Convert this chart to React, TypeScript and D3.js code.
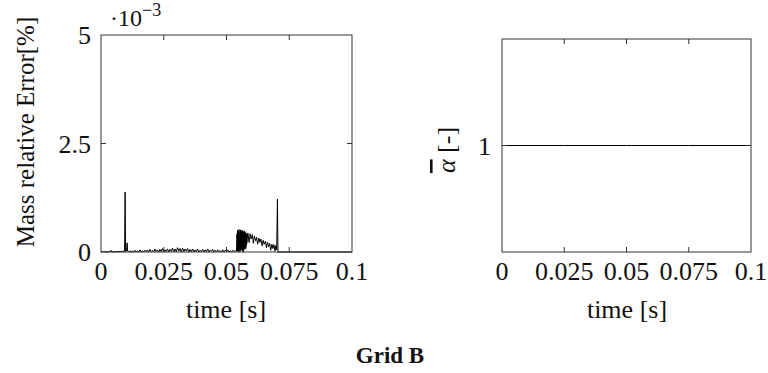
import React from "react";
import * as d3 from "d3";

// ---- data (left: mass relative error, in units of 1e-3 %) ----
const massErrorPoints: [number, number][] = [
  [0, 0], [0.001, 0.01], [0.002, 0.0], [0.0035, 0.01], [0.004, 0.04], [0.0043, 0.0],
  [0.006, 0.01], [0.008, 0.01], [0.0094, 0.02], [0.0096, 1.38], [0.0098, 0.01],
  [0.0102, 0.03], [0.0104, 0.21], [0.0106, 0.02],
  [0.011, 0.0], [0.0115, 0.03], [0.012, 0.0], [0.0125, 0.02], [0.013, 0.0], [0.0135, 0.04],
  [0.014, 0.0], [0.0145, 0.02], [0.015, 0.0], [0.0155, 0.05], [0.016, 0.0], [0.0165, 0.03],
  [0.017, 0.0], [0.0175, 0.04], [0.018, 0.01], [0.0185, 0.05], [0.019, 0.0], [0.0195, 0.06],
  [0.02, 0.01], [0.0205, 0.04], [0.021, 0.0], [0.0215, 0.07], [0.022, 0.01], [0.0225, 0.05],
  [0.023, 0.0], [0.0235, 0.06], [0.024, 0.01], [0.0245, 0.08], [0.025, 0.0], [0.0255, 0.05],
  [0.026, 0.01], [0.0265, 0.07], [0.027, 0.0], [0.0275, 0.06], [0.028, 0.02], [0.0285, 0.09],
  [0.029, 0.0], [0.0295, 0.07], [0.03, 0.01], [0.0305, 0.1], [0.031, 0.02], [0.0315, 0.08],
  [0.032, 0.0], [0.0325, 0.09], [0.033, 0.01], [0.0335, 0.07], [0.034, 0.02], [0.0345, 0.08],
  [0.035, 0.0], [0.0355, 0.06], [0.036, 0.01], [0.0365, 0.07], [0.037, 0.0], [0.0375, 0.05],
  [0.038, 0.01], [0.0385, 0.07], [0.039, 0.0], [0.0395, 0.04], [0.04, 0.01], [0.0405, 0.06],
  [0.041, 0.0], [0.0415, 0.05], [0.042, 0.01], [0.0425, 0.07], [0.043, 0.0], [0.0435, 0.04],
  [0.044, 0.01], [0.0445, 0.06], [0.045, 0.0], [0.0455, 0.04], [0.046, 0.0], [0.0465, 0.05],
  [0.047, 0.01], [0.0475, 0.03], [0.048, 0.0], [0.0485, 0.05], [0.049, 0.0], [0.0495, 0.04],
  [0.05, 0.01], [0.0505, 0.05], [0.051, 0.0], [0.0515, 0.03], [0.052, 0.0], [0.0525, 0.04],
  [0.053, 0.01], [0.0535, 0.03], [0.054, 0.02],
  [0.0542, 0.42], [0.0543, 0.02], [0.0544, 0.5], [0.0545, 0.05], [0.0546, 0.35], [0.0547, 0.0],
  [0.0548, 0.48], [0.0549, 0.04], [0.055, 0.52], [0.0551, 0.06], [0.0552, 0.3], [0.0553, 0.01],
  [0.0554, 0.46], [0.0555, 0.08], [0.0556, 0.51], [0.0557, 0.03], [0.0558, 0.38], [0.0559, 0.1],
  [0.056, 0.49], [0.0561, 0.05], [0.0562, 0.44], [0.0563, 0.12], [0.0564, 0.5], [0.0565, 0.02],
  [0.0566, 0.36], [0.0567, 0.0], [0.0568, 0.47], [0.0569, 0.09], [0.057, 0.42], [0.0571, 0.14],
  [0.0572, 0.48], [0.0573, 0.06], [0.0574, 0.4], [0.0575, 0.12], [0.0576, 0.45], [0.0577, 0.08],
  [0.0578, 0.43], [0.0579, 0.15], [0.058, 0.41], [0.0581, 0.2],
  [0.0585, 0.44], [0.059, 0.22], [0.0594, 0.42], [0.0598, 0.3], [0.0603, 0.4], [0.0607, 0.2],
  [0.0611, 0.37], [0.0616, 0.26], [0.062, 0.34], [0.0624, 0.18], [0.0629, 0.32], [0.0633, 0.22],
  [0.0637, 0.3], [0.0642, 0.14], [0.0646, 0.27], [0.065, 0.18], [0.0655, 0.25], [0.0659, 0.1],
  [0.0663, 0.23], [0.0668, 0.12], [0.0672, 0.2], [0.0676, 0.04], [0.0681, 0.18], [0.0685, 0.08],
  [0.0689, 0.17], [0.0693, 0.02], [0.0697, 0.15], [0.07, 0.05], [0.0703, 1.22], [0.0705, 0.0],
  [0.075, 0.0], [0.1, 0.0],
];

// right: volume-averaged alpha
const alphaTime = [0, 0.025, 0.05, 0.075, 0.1];
const alphaValue = [1, 1, 1, 1, 1];

const timeTicks = [0, 0.025, 0.05, 0.075, 0.1];
const timeTickLabels = ["0", "0.025", "0.05", "0.075", "0.1"];
const errTicks = [0, 2.5, 5];
const errTickLabels = ["0", "2.5", "5"];
const alphaTicks = [1];
const alphaTickLabels = ["1"];

const FONT = "'Liberation Serif', 'Times New Roman', serif";
const FS = 26;
const TICK = 5;
const FRAME = "#333";
const TEXT = "#111";

function Frame({ x, y, xTicks, yTicks }: any) {
  const [x0, x1] = x.range();
  const [y0, y1] = y.range();
  return (
    <g stroke={FRAME} strokeWidth={1} fill="none">
      <rect x={x0} y={y1} width={x1 - x0} height={y0 - y1} />
      {xTicks.map((t: number, i: number) => (
        <g key={"xt" + i}>
          <line x1={x(t)} x2={x(t)} y1={y0} y2={y0 - TICK} />
          <line x1={x(t)} x2={x(t)} y1={y1} y2={y1 + TICK} />
        </g>
      ))}
      {yTicks.map((t: number, i: number) => (
        <g key={"yt" + i}>
          <line x1={x0} x2={x0 + TICK} y1={y(t)} y2={y(t)} />
          <line x1={x1} x2={x1 - TICK} y1={y(t)} y2={y(t)} />
        </g>
      ))}
    </g>
  );
}

function XLabels({ x, y }: any) {
  const y0 = y.range()[0];
  return (
    <g fontFamily={FONT} fontSize={FS} fill={TEXT} textAnchor="middle">
      {timeTicks.map((t, i) => (
        <text key={i} x={x(t)} y={y0 + 28}>
          {timeTickLabels[i]}
        </text>
      ))}
    </g>
  );
}

export default function App() {
  const xL = d3.scaleLinear().domain([0, 0.1]).range([101, 352]);
  const yL = d3.scaleLinear().domain([0, 5]).range([252, 35]);
  const xR = d3.scaleLinear().domain([0, 0.1]).range([502, 751]);
  const yR = d3.scaleLinear().domain([0.5, 1.5]).range([252, 39]);

  const errLine = d3
    .line<[number, number]>()
    .x((d) => xL(d[0]))
    .y((d) => yL(d[1]));
  const alphaLine = d3
    .line<number>()
    .x((_, i) => xR(alphaTime[i]))
    .y((d) => yR(d));

  return (
    <svg
      width={768}
      height={373}
      style={{ position: "absolute", left: 0, top: 0, background: "#fff" }}
    >
      {/* left plot */}
      <path d={errLine(massErrorPoints) || ""} fill="none" stroke="#000" strokeWidth={1} />
      <Frame x={xL} y={yL} xTicks={timeTicks.slice(1, -1)} yTicks={errTicks.slice(1, -1)} />
      <XLabels x={xL} y={yL} />
      <g fontFamily={FONT} fontSize={FS} fill={TEXT} textAnchor="end">
        {errTicks.map((t, i) => (
          <text key={i} x={91} y={yL(t) + 9}>
            {errTickLabels[i]}
          </text>
        ))}
      </g>
      <text x={110} y={26} fontFamily={FONT} fontSize={24} fill={TEXT}>
        ·10
        <tspan dy={-10} fontSize={18}>
          −3
        </tspan>
      </text>
      <text
        transform={`translate(34,${132}) rotate(-90)`}
        textAnchor="middle"
        fontFamily={FONT}
        fontSize={25}
        fill={TEXT}
      >
        Mass relative Error[%]
      </text>
      <text x={226} y={318} textAnchor="middle" fontFamily={FONT} fontSize={FS} fill={TEXT}>
        time [s]
      </text>

      {/* right plot */}
      <path d={alphaLine(alphaValue) || ""} fill="none" stroke="#000" strokeWidth={1} />
      <Frame x={xR} y={yR} xTicks={timeTicks.slice(1, -1)} yTicks={alphaTicks} />
      <XLabels x={xR} y={yR} />
      <g fontFamily={FONT} fontSize={FS} fill={TEXT} textAnchor="end">
        {alphaTicks.map((t, i) => (
          <text key={i} x={491} y={yR(t) + 9}>
            {alphaTickLabels[i]}
          </text>
        ))}
      </g>
      <text
        transform={`translate(455,150) rotate(-90)`}
        textAnchor="middle"
        fontFamily={FONT}
        fontSize={FS}
        fill={TEXT}
      >
        <tspan fontStyle="italic" style={{ textDecoration: "overline" }}>α</tspan>
        <tspan> [-]</tspan>
      </text>
      <text x={627} y={318} textAnchor="middle" fontFamily={FONT} fontSize={FS} fill={TEXT}>
        time [s]
      </text>

      <text
        x={390}
        y={363}
        textAnchor="middle"
        fontFamily={FONT}
        fontSize={23}
        fontWeight="bold"
        fill={TEXT}
      >
        Grid B
      </text>
    </svg>
  );
}
